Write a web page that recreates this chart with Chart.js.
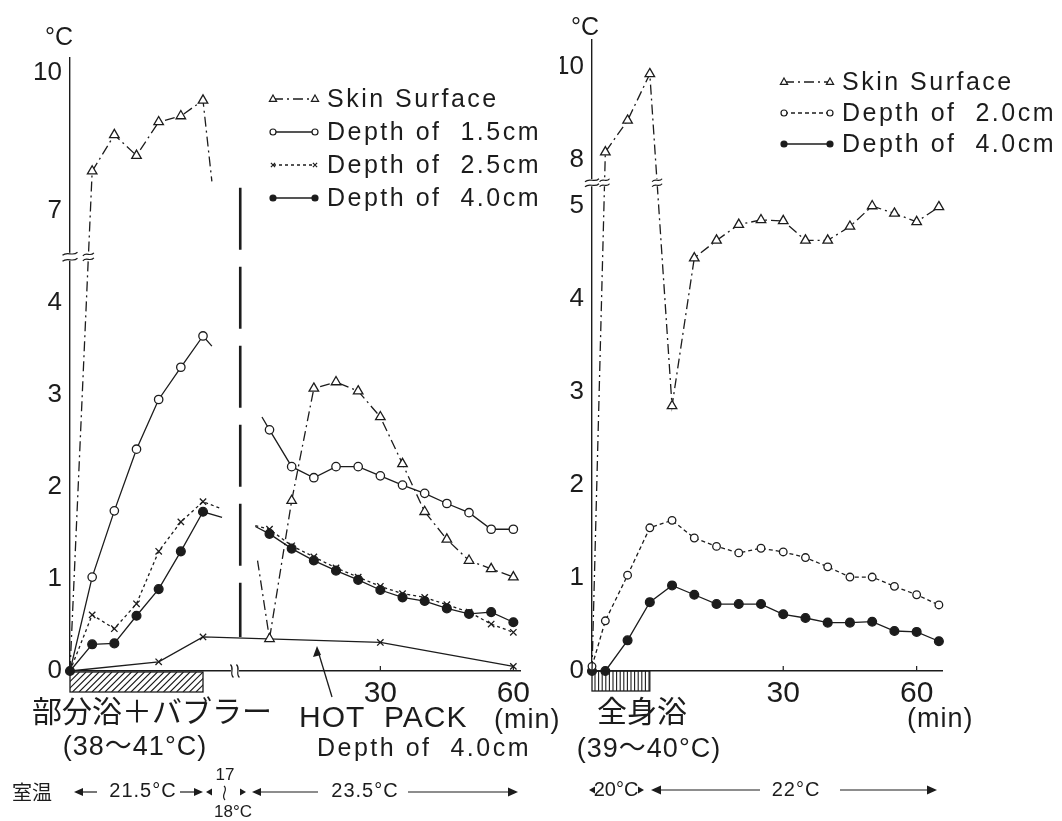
<!DOCTYPE html>
<html>
<head>
<meta charset="utf-8">
<script src="https://cdn.jsdelivr.net/npm/chart.js@4.4.1/dist/chart.umd.min.js"></script>
<style>
  html, body { margin: 0; padding: 0; background: #fff; }
  #wrap { position: relative; width: 1062px; height: 821px; }
  canvas { position: absolute; left: 0; top: 0; }
</style>
</head>
<body>
<div id="wrap">
  <canvas id="left" width="1062" height="821"></canvas>
  <canvas id="right" width="1062" height="821"></canvas>
</div>
<script>
// ---- left panel: partial bath + bubbler (0-30 min), then hot pack ----
const bathTimes = [0, 5, 10, 15, 20, 25, 30];
const bathSkin = [0, 7.86, 8.65, 8.2, 8.93, 9.06, 9.4];
const bathD15 = [0, 1.02, 1.74, 2.41, 2.95, 3.3, 3.64];
const bathD25 = [0, 0.61, 0.46, 0.73, 1.3, 1.62, 1.84];
const bathD40 = [0, 0.29, 0.3, 0.6, 0.89, 1.3, 1.73];
// where each line runs off toward the break after the bath: skin, 1.5, 2.5, 4.0
const bathTailTimes = [32, 32, 34.3, 34.3];
const bathTailValues = [7.64, 3.53, 1.76, 1.67];

const hotTimes = [5, 10, 15, 20, 25, 30, 35, 40, 45, 50, 55, 60];
const hotSkin = [0.35, 1.85, 3.07, 3.14, 3.04, 2.76, 2.25, 1.73, 1.43, 1.2, 1.11, 1.02];
const hotD15 = [2.62, 2.22, 2.1, 2.22, 2.22, 2.12, 2.02, 1.93, 1.82, 1.72, 1.54, 1.54];
const hotD25 = [1.54, 1.36, 1.24, 1.12, 1.02, 0.92, 0.84, 0.8, 0.72, 0.64, 0.51, 0.42];
const hotD40 = [1.49, 1.33, 1.2, 1.09, 0.99, 0.88, 0.8, 0.76, 0.68, 0.62, 0.64, 0.53];
// where each line comes in from the break before the hot pack: skin, 1.5, 2.5, 4.0
const hotHeadTimes = [2.3, 3.3, 1.8, 1.8];
const hotHeadValues = [1.2, 2.76, 1.58, 1.57];

// HOT PACK, depth of 4.0cm
const hpBathTimes = [0, 20, 30];
const hpBathValues = [0, 0.1, 0.37];
const hpTimes = [30, 60];
const hpValues = [0.31, 0.05];

const hotOffset = 40;        // hot pack minute 0 sits 40 min after the bath started
const sepTime = 38.4;        // long dashed separator
const sepValues = [7.5, 0.37];
const leftAxisGap = 37.2;    // x axis break
const leftXTicks = [30, 60];
const leftYTicks = [0, 1, 2, 3, 4, 7, 10];

// ---- right panel: whole-body bath (first 13 min), minutes from bath start ----
const wholeTimes = [0, 3, 8, 13, 18, 23, 28, 33, 38, 43, 48, 53, 58, 63, 68, 73, 78];
const wholeSkin = [0, 8.16, 8.84, 9.84, 2.85, 4.44, 4.63, 4.8, 4.85, 4.84, 4.63, 4.63, 4.78, 5.0, 4.92, 4.83, 4.99];
const wholeD20 = [0.05, 0.54, 1.03, 1.54, 1.62, 1.43, 1.34, 1.27, 1.32, 1.28, 1.22, 1.12, 1.01, 1.01, 0.91, 0.82, 0.71];
const wholeD40 = [0, 0, 0.33, 0.74, 0.92, 0.82, 0.72, 0.72, 0.72, 0.61, 0.57, 0.52, 0.52, 0.53, 0.43, 0.42, 0.32];
const wholeBathEnd = 13;
const rightXTicks = [30, 60];
const rightYTicks = [0, 1, 2, 3, 4, 5, 8, 10];

const INK = '#1c1c1c';
const LAT = '"Liberation Sans", Arial, "Noto Sans CJK JP", sans-serif';
const JP = '"Noto Sans CJK JP", sans-serif';

// broken y axis: linear up to `top`, then half scale from `jump` on
function brokenMap(top, jump, at) {
  return v => (v <= top ? v : at + (v - jump) * 0.5);
}
const leftMap = brokenMap(4.5, 7, 5);
const rightMap = brokenMap(5.25, 8, 5.5);

const looks = {
  skin: { point: 'triangle', r: 5.5, fill: '#fff', dash: [10, 4, 2, 4] },
  d15: { point: 'circle', r: 4.2, fill: '#fff', dash: [] },
  d25: { point: 'crossRot', r: 4.5, fill: '#fff', dash: [3, 3] },
  d40: { point: 'circle', r: 4.4, fill: INK, dash: [] },
  d20: { point: 'circle', r: 3.8, fill: '#fff', dash: [4, 3] },
};

function series(times, values, map, offset, look, hide) {
  return {
    data: times.map((t, i) => ({ x: t + offset, y: map(values[i]) })),
    borderColor: INK, borderWidth: 1.3, borderDash: look.dash,
    pointStyle: look.point, pointBackgroundColor: look.fill,
    pointBorderColor: INK, pointBorderWidth: 1.3,
    pointRadius: c => (hide.includes(c.dataIndex) ? 0 : look.r),
    tension: 0, fill: false, clip: false,
  };
}

const bathSets = [bathSkin, bathD15, bathD25, bathD40];
const hotSets = [hotSkin, hotD15, hotD25, hotD40];
const leftLooks = [looks.skin, looks.d15, looks.d25, looks.d40];

const leftData = [];
bathSets.forEach((vals, k) => {
  const n = vals.length;
  leftData.push(series(bathTimes.concat(bathTailTimes[k]), vals.concat(bathTailValues[k]),
    leftMap, 0, leftLooks[k], k === 3 ? [n] : [0, n]));
});
hotSets.forEach((vals, k) => {
  leftData.push(series([hotHeadTimes[k]].concat(hotTimes), [hotHeadValues[k]].concat(vals),
    leftMap, hotOffset, leftLooks[k], [0]));
});
leftData.push({
  data: hpBathTimes.map((t, i) => ({ x: t, y: hpBathValues[i] }))
    .concat(hpTimes.map((t, i) => ({ x: t + hotOffset, y: hpValues[i] }))),
  borderColor: INK, borderWidth: 1.3, pointStyle: 'crossRot', pointBorderColor: INK,
  pointBorderWidth: 1.3, pointRadius: c => (c.dataIndex === 0 ? 0 : 4.5), tension: 0, clip: false,
});
leftData.push({
  data: sepValues.map(v => ({ x: sepTime, y: leftMap(v) })),
  borderColor: INK, borderWidth: 2.6, borderDash: [62, 17], pointRadius: 0, clip: false,
});

const rightData = [
  series(wholeTimes, wholeSkin, rightMap, 0, looks.skin, [0]),
  series(wholeTimes, wholeD20, rightMap, 0, looks.d20, []),
  series(wholeTimes, wholeD40, rightMap, 0, looks.d40, []),
];

// ---- drawing helpers ----
function text(ctx, s, x, y, size, align, family, spacing) {
  ctx.font = size + 'px ' + (family || LAT);
  ctx.letterSpacing = spacing || '0px';
  ctx.textAlign = align || 'left';
  ctx.textBaseline = 'middle';
  ctx.fillStyle = INK;
  ctx.fillText(s, x, y);
  ctx.letterSpacing = '0px';
}

function marker(ctx, look, x, y, r) {
  ctx.save();
  ctx.setLineDash([]);
  ctx.lineWidth = 1.2;
  ctx.strokeStyle = INK;
  ctx.fillStyle = look.fill;
  ctx.beginPath();
  if (look.point === 'triangle') {
    ctx.moveTo(x, y - r);
    ctx.lineTo(x + r * 0.9, y + r * 0.6);
    ctx.lineTo(x - r * 0.9, y + r * 0.6);
    ctx.closePath();
    ctx.fill();
    ctx.stroke();
  } else if (look.point === 'crossRot') {
    ctx.moveTo(x - r * 0.7, y - r * 0.7); ctx.lineTo(x + r * 0.7, y + r * 0.7);
    ctx.moveTo(x + r * 0.7, y - r * 0.7); ctx.lineTo(x - r * 0.7, y + r * 0.7);
    ctx.stroke();
  } else {
    ctx.arc(x, y, r, 0, Math.PI * 2);
    ctx.fill();
    ctx.stroke();
  }
  ctx.restore();
}

function legend(ctx, rows, x1, x2, y0, step, size, spacing) {
  rows.forEach(([label, look], i) => {
    const y = y0 + i * step;
    ctx.save();
    ctx.strokeStyle = INK;
    ctx.lineWidth = 1.3;
    ctx.setLineDash(look.dash);
    ctx.beginPath(); ctx.moveTo(x1, y); ctx.lineTo(x2, y); ctx.stroke();
    ctx.restore();
    marker(ctx, look, x1, y, look.point === 'triangle' ? 4 : 3);
    marker(ctx, look, x2, y, look.point === 'triangle' ? 4 : 3);
    text(ctx, label, x2 + 12, y + 1, size, 'left', LAT, spacing);
  });
}

function tildes(ctx, cx, cy, w, gap, vertical) {
  ctx.save();
  ctx.translate(cx, cy);
  if (vertical) ctx.rotate(Math.PI / 2);
  ctx.fillStyle = '#fff';
  ctx.fillRect(-w / 2 + 2, -gap / 2 - 1, w - 4, gap + 2);
  ctx.strokeStyle = INK;
  ctx.lineWidth = 1.2;
  ctx.setLineDash([]);
  [-gap / 2, gap / 2].forEach(dy => {
    ctx.beginPath();
    ctx.moveTo(-w / 2, dy + 1.5);
    ctx.bezierCurveTo(-w / 6, dy - 3, w / 6, dy + 3, w / 2, dy - 1.5);
    ctx.stroke();
  });
  ctx.restore();
}

// point where segment `seg` of dataset `di` crosses pixel row y
function crossing(chart, di, seg, y) {
  const pts = chart.getDatasetMeta(di).data;
  const a = pts[seg], b = pts[seg + 1];
  const t = (y - a.y) / (b.y - a.y);
  return a.x + t * (b.x - a.x);
}

function arrowLine(ctx, xFrom, xTo, y, head) {
  const d = Math.sign(xTo - xFrom);
  ctx.beginPath(); ctx.moveTo(xFrom, y); ctx.lineTo(xTo - d * 2, y); ctx.stroke();
  ctx.beginPath();
  ctx.moveTo(xTo, y); ctx.lineTo(xTo - d * head, y - head * 0.45); ctx.lineTo(xTo - d * head, y + head * 0.45);
  ctx.closePath(); ctx.fill();
}

function tip(ctx, x, y, dir) {
  ctx.beginPath();
  ctx.moveTo(x, y); ctx.lineTo(x - dir * 6, y - 3.5); ctx.lineTo(x - dir * 6, y + 3.5);
  ctx.closePath(); ctx.fill();
}

function hatch(ctx, x1, x2, y1, y2, diagonal) {
  ctx.save();
  ctx.strokeStyle = INK;
  ctx.lineWidth = 1.3;
  ctx.setLineDash([]);
  ctx.strokeRect(x1, y1, x2 - x1, y2 - y1);
  ctx.beginPath(); ctx.rect(x1, y1, x2 - x1, y2 - y1); ctx.clip();
  ctx.lineWidth = 1.1;
  ctx.beginPath();
  if (diagonal) {
    for (let x = x1 - 30; x < x2 + 30; x += 6.5) { ctx.moveTo(x, y2); ctx.lineTo(x + (y2 - y1), y1); }
  } else {
    for (let x = x1 + 3; x < x2; x += 3.6) { ctx.moveTo(x, y1); ctx.lineTo(x, y2); }
  }
  ctx.stroke();
  ctx.restore();
}

function tickMarks(ctx, xs, ticks, offset) {
  ctx.strokeStyle = INK; ctx.lineWidth = 1.2;
  ticks.forEach(t => {
    const px = xs.getPixelForValue(t + offset);
    ctx.beginPath(); ctx.moveTo(px, xs.top); ctx.lineTo(px, xs.top - 5); ctx.stroke();
  });
}

const leftDecor = {
  id: 'leftDecor',
  afterDraw(chart) {
    const { ctx, chartArea: area, scales: { x, y } } = chart;
    ctx.save();
    text(ctx, '°C', 59, 38, 25, 'center');
    const yb = y.getPixelForValue(4.5);
    tildes(ctx, area.left, yb, 15, 6, false);
    tildes(ctx, crossing(chart, 0, 0, yb), yb, 11, 5, false);
    tildes(ctx, x.getPixelForValue(leftAxisGap), area.bottom, 13, 6, true);
    tickMarks(ctx, x, leftXTicks, hotOffset);
    hatch(ctx, x.getPixelForValue(bathTimes[0]), x.getPixelForValue(bathTimes[bathTimes.length - 1]),
      area.bottom + 1, area.bottom + 21, true);

    legend(ctx, [['Skin Surface', looks.skin], ['Depth of  1.5cm', looks.d15],
      ['Depth of  2.5cm', looks.d25], ['Depth of  4.0cm', looks.d40]], 273, 315, 99, 33, 25, '2.5px');

    text(ctx, '部分浴＋バブラー', 152, 711, 30, 'center', JP);
    text(ctx, '(38～41°C)', 135, 748, 27, 'center', LAT, '1px');
    text(ctx, 'HOT  PACK', 299, 719, 30, 'left', LAT, '1px');
    text(ctx, '(min)', 494, 721, 27, 'left', LAT, '1px');
    text(ctx, 'Depth of  4.0cm', 317, 749, 25, 'left', LAT, '2.5px');

    // arrow from the caption to the hot pack line
    ctx.strokeStyle = INK; ctx.fillStyle = INK; ctx.lineWidth = 1.3;
    ctx.beginPath(); ctx.moveTo(332, 697); ctx.lineTo(318, 651); ctx.stroke();
    ctx.beginPath(); ctx.moveTo(317, 646); ctx.lineTo(313, 657); ctx.lineTo(321, 655); ctx.closePath(); ctx.fill();

    // room temperature row
    ctx.lineWidth = 1.2;
    text(ctx, '室温', 12, 792, 20, 'left', JP);
    arrowLine(ctx, 97, 74, 792, 9);
    text(ctx, '21.5°C', 143, 791, 20, 'center', LAT, '1px');
    arrowLine(ctx, 180, 203, 792, 9);
    tip(ctx, 206, 792, -1);
    text(ctx, '17', 225, 775, 17, 'center');
    ctx.beginPath(); ctx.moveTo(224, 786); ctx.bezierCurveTo(229, 790, 220, 795, 225, 800); ctx.stroke();
    text(ctx, '18°C', 233, 812, 17, 'center');
    tip(ctx, 246, 792, 1);
    arrowLine(ctx, 318, 252, 792, 9);
    text(ctx, '23.5°C', 365, 791, 20, 'center', LAT, '1px');
    arrowLine(ctx, 408, 518, 792, 10);
    ctx.restore();
  },
};

const rightDecor = {
  id: 'rightDecor',
  afterDraw(chart) {
    const { ctx, chartArea: area, scales: { x, y } } = chart;
    ctx.save();
    text(ctx, '°C', 585, 28, 25, 'center');
    const yb = y.getPixelForValue(5.25);
    tildes(ctx, area.left, yb, 14, 5, false);
    tildes(ctx, crossing(chart, 0, 0, yb), yb, 10, 5, false);
    tildes(ctx, crossing(chart, 0, 3, yb), yb, 10, 5, false);
    tickMarks(ctx, x, rightXTicks, wholeBathEnd);
    hatch(ctx, x.getPixelForValue(0), x.getPixelForValue(wholeBathEnd), area.bottom, area.bottom + 20, false);

    legend(ctx, [['Skin Surface', looks.skin], ['Depth of  2.0cm', looks.d20],
      ['Depth of  4.0cm', looks.d40]], 784, 830, 82, 31, 25, '2.5px');

    text(ctx, '全身浴', 642, 711, 30, 'center', JP);
    text(ctx, '(39～40°C)', 649, 750, 27, 'center', LAT, '1px');
    text(ctx, '(min)', 907, 720, 27, 'left', LAT, '1px');

    ctx.strokeStyle = INK; ctx.fillStyle = INK; ctx.lineWidth = 1.2;
    tip(ctx, 589, 790, -1);
    text(ctx, '20°C', 616, 790, 20, 'center');
    tip(ctx, 644, 790, 1);
    arrowLine(ctx, 760, 651, 790, 10);
    text(ctx, '22°C', 796, 790, 20, 'center', LAT, '1px');
    arrowLine(ctx, 840, 937, 790, 10);
    ctx.restore();
  },
};

function axes(xMax, xTicks, xOffset, yMax, yTicks, map, yWidth) {
  return {
    x: {
      type: 'linear', min: 0, max: xMax,
      grid: { display: false, drawTicks: false },
      border: { display: true, color: INK, width: 1.4 },
      afterBuildTicks: s => { s.ticks = xTicks.map(t => ({ value: t + xOffset })); },
      ticks: { callback: v => String(Math.round(v - xOffset)), color: INK, autoSkip: false, maxRotation: 0,
        padding: 5, font: { family: LAT, size: 30 } },
      afterFit: s => { s.height = 150; },
    },
    y: {
      type: 'linear', min: 0, max: yMax,
      grid: { display: false, drawTicks: false },
      border: { display: true, color: INK, width: 1.4 },
      afterBuildTicks: s => { s.ticks = yTicks.map(v => ({ value: map(v) })); },
      ticks: { callback: (v, i) => String(yTicks[i]), color: INK, autoSkip: false,
        padding: 8, font: { family: LAT, size: 26 } },
      afterFit: s => { s.width = yWidth; },
    },
  };
}

const common = {
  responsive: false, animation: false, devicePixelRatio: 1,
  plugins: { legend: { display: false }, tooltip: { enabled: false } },
};

new Chart(document.getElementById('left'), {
  type: 'line',
  data: { datasets: leftData },
  options: Object.assign({}, common, {
    layout: { padding: { left: 0, top: 58, right: 542, bottom: 0 } },
    scales: axes(101.5, leftXTicks, hotOffset, 6.66, leftYTicks, leftMap, 70),
  }),
  plugins: [leftDecor],
});

new Chart(document.getElementById('right'), {
  type: 'line',
  data: { datasets: rightData },
  options: Object.assign({}, common, {
    layout: { padding: { left: 560, top: 40, right: 120, bottom: 0 } },
    scales: axes(78.7, rightXTicks, wholeBathEnd, 6.785, rightYTicks, rightMap, 32),
  }),
  plugins: [rightDecor],
});
</script>
</body>
</html>
